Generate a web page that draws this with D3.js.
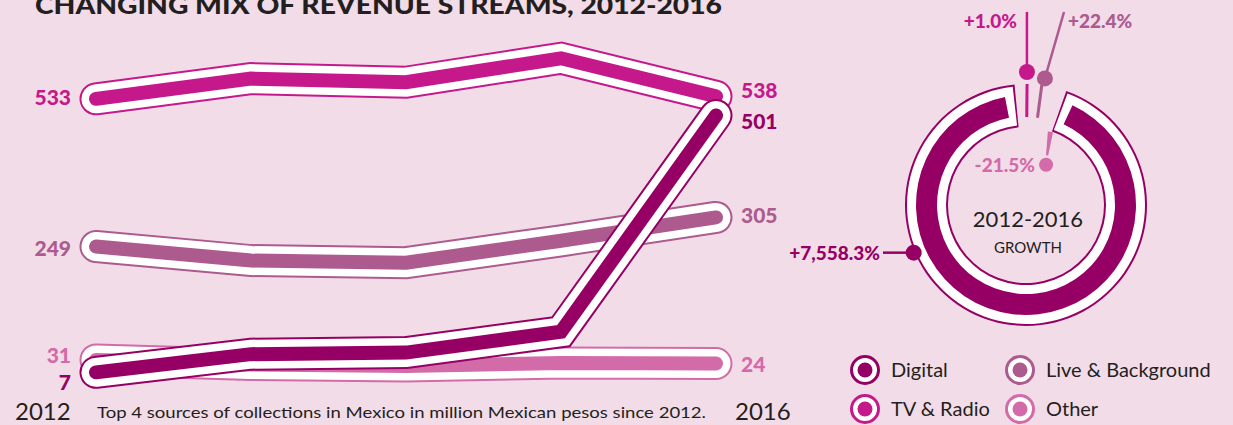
<!DOCTYPE html>
<html>
<head>
<meta charset="utf-8">
<script src="https://cdn.jsdelivr.net/npm/d3@7"></script>
<style>
body { margin: 0; background: #f2dce8; }
svg { display: block; font-family: Lato, "Open Sans", sans-serif; }
</style>
</head>
<body>
<svg id="chart" width="1233" height="425"></svg>
<script>
// data
var years = [2012, 2013, 2014, 2015, 2016];
var otherValues = [31, 22, 19, 25, 24];
var liveValues = [249, 222, 218, 260, 305];
var tvValues = [533, 572, 565, 611, 538];
var digitalValues = [7, 42, 45, 85, 501];

var growthNames = ["Digital", "TV & Radio", "Live & Background", "Other"];
var growthValues = [7558.3, 1.0, 22.4, -21.5];
var growthLabels = ["+7,558.3%", "+1.0%", "+22.4%", "-21.5%"];

var legendNames = ["Digital", "TV & Radio", "Live & Background", "Other"];

var colors = {
  "Digital": "#960064",
  "TV & Radio": "#c5198b",
  "Live & Background": "#ad5a8e",
  "Other": "#d36ba9"
};
var ink = "#231f20";

var svg = d3.select("#chart");

// title, cut by the top edge like in the original
svg.append("text")
  .attr("x", 35).attr("y", 14)
  .attr("textLength", 687).attr("lengthAdjust", "spacingAndGlyphs")
  .style("font-size", "24px").style("font-weight", 900).attr("fill", ink)
  .text("CHANGING MIX OF REVENUE STREAMS, 2012-2016");

// line chart
var x = d3.scalePoint().domain(years).range([96, 716]);
var y = d3.scaleLinear().domain([0, 600]).range([376, 64]);

var line = d3.line()
  .x(function(d, i) { return x(years[i]); })
  .y(function(d) { return y(d); });

// drawn bottom to top
var series = [
  { name: "Other", values: otherValues, nudgeL: -4, nudgeR: 1 },
  { name: "Live & Background", values: liveValues, nudgeL: 2, nudgeR: -2 },
  { name: "TV & Radio", values: tvValues, nudgeL: -1, nudgeR: -6 },
  { name: "Digital", values: digitalValues, nudgeL: 10, nudgeR: 6 }
];

series.forEach(function(s) {
  var g = svg.append("g");
  var c = colors[s.name];
  [[33, c], [29, "#fff"], [14, c]].forEach(function(w) {
    g.append("path")
      .attr("d", line(s.values))
      .attr("fill", "none")
      .attr("stroke", w[1])
      .attr("stroke-width", w[0])
      .attr("stroke-linecap", "round")
      .attr("stroke-linejoin", "miter");
  });
  var first = s.values[0], last = s.values[s.values.length - 1];
  svg.append("text")
    .attr("x", 71).attr("y", y(first) + s.nudgeL + 7.5)
    .attr("text-anchor", "end")
    .style("font-size", "21px").style("font-weight", 900)
    .attr("fill", c).text(first);
  svg.append("text")
    .attr("x", 741).attr("y", y(last) + s.nudgeR + 7.5)
    .style("font-size", "21px").style("font-weight", 900)
    .attr("fill", c).text(last);
});

// year labels + caption
svg.append("text").attr("x", 15).attr("y", 420)
  .style("font-size", "24px").attr("fill", ink).text(years[0]);
svg.append("text").attr("x", 735).attr("y", 420)
  .style("font-size", "24px").attr("fill", ink).text(years[years.length - 1]);
svg.append("text").attr("x", 97).attr("y", 418)
  .attr("textLength", 609).attr("lengthAdjust", "spacingAndGlyphs")
  .style("font-size", "16px").attr("fill", ink)
  .text("Top 4 sources of collections in Mexico in million Mexican pesos since 2012.");

// growth donut
var cx = 1026, cy = 205;
var rad = Math.PI / 180;
function polar(deg, r) {
  return [cx + r * Math.sin(deg * rad), cy - r * Math.cos(deg * rad)];
}
var arcStart = 25 * rad;
var arcScale = d3.scaleLinear().domain([0, growthValues[0]]).range([0, 324 * rad]);
var a0 = arcStart, a1 = arcStart + arcScale(growthValues[0]);
var donut = svg.append("g").attr("transform", "translate(" + cx + "," + cy + ")");
[
  { ri: 78, ro: 121, pad: 0.097, fill: colors["Digital"] },
  { ri: 80, ro: 119, pad: 0.08, fill: "#fff" },
  { ri: 89, ro: 110, pad: 0, fill: colors["Digital"] }
].forEach(function(l) {
  donut.append("path")
    .attr("d", d3.arc().innerRadius(l.ri).outerRadius(l.ro)
      .startAngle(a0 - l.pad).endAngle(a1 + l.pad)())
    .attr("fill", l.fill);
});

svg.append("text").attr("x", 1028).attr("y", 227)
  .attr("text-anchor", "middle").style("font-size", "22px").style("font-weight", 400)
  .attr("fill", ink).text("2012-2016");
svg.append("text").attr("x", 1028).attr("y", 253)
  .attr("text-anchor", "middle").style("font-size", "15px").style("font-weight", 400)
  .attr("fill", ink).text("GROWTH");

// slivers for the small growth values (under one degree of arc)
var sliverAngle = { "TV & Radio": 0.5, "Live & Background": 7.5, "Other": 20 };
growthNames.forEach(function(n, i) {
  if (i === 0) return;
  var v = growthValues[i], c = colors[n], ang = sliverAngle[n];
  if (v >= 0) {
    var p0 = polar(ang, 88), p1 = polar(ang, 121);
    svg.append("line").attr("x1", p0[0]).attr("y1", p0[1]).attr("x2", p1[0]).attr("y2", p1[1])
      .attr("stroke", c).attr("stroke-width", 3);
  } else {
    var q0 = polar(ang - 1.5, 77), q1 = polar(ang + 3, 54);
    var dx = q1[0] - q0[0], dy = q1[1] - q0[1], len = Math.hypot(dx, dy);
    var nx = -dy / len, ny = dx / len;
    svg.append("path")
      .attr("d", "M" + (q0[0] + nx * 2.6) + "," + (q0[1] + ny * 2.6) +
        "L" + (q0[0] - nx * 2.6) + "," + (q0[1] - ny * 2.6) +
        "L" + (q1[0] - nx * 1.1) + "," + (q1[1] - ny * 1.1) +
        "L" + (q1[0] + nx * 1.1) + "," + (q1[1] + ny * 1.1) + "Z")
      .attr("fill", c);
  }
});

// annotations
var fs = 19;
// Digital
var pd = polar(247, 122);
svg.append("line").attr("x1", pd[0]).attr("y1", pd[1]).attr("x2", 883).attr("y2", pd[1])
  .attr("stroke", colors["Digital"]).attr("stroke-width", 2.5);
svg.append("circle").attr("cx", pd[0]).attr("cy", pd[1]).attr("r", 8).attr("fill", colors["Digital"]);
svg.append("text").attr("x", 880).attr("y", pd[1] + fs * 0.36)
  .attr("text-anchor", "end").style("font-size", fs + "px").style("font-weight", 900)
  .attr("fill", colors["Digital"]).text(growthLabels[0]);
// TV & Radio
var pt = polar(0.4, 133);
svg.append("line").attr("x1", pt[0]).attr("y1", pt[1]).attr("x2", pt[0]).attr("y2", 12)
  .attr("stroke", colors["TV & Radio"]).attr("stroke-width", 2.5);
svg.append("circle").attr("cx", pt[0]).attr("cy", pt[1]).attr("r", 8).attr("fill", colors["TV & Radio"]);
svg.append("text").attr("x", 1017).attr("y", 21 + fs * 0.36)
  .attr("text-anchor", "end").style("font-size", fs + "px").style("font-weight", 900)
  .attr("fill", colors["TV & Radio"]).text(growthLabels[1]);
// Live & Background
var pl = polar(8.5, 128);
svg.append("line").attr("x1", pl[0]).attr("y1", pl[1]).attr("x2", 1064).attr("y2", 12)
  .attr("stroke", colors["Live & Background"]).attr("stroke-width", 2.5);
svg.append("circle").attr("cx", pl[0]).attr("cy", pl[1]).attr("r", 8).attr("fill", colors["Live & Background"]);
svg.append("text").attr("x", 1068).attr("y", 21 + fs * 0.36)
  .style("font-size", fs + "px").style("font-weight", 900)
  .attr("fill", colors["Live & Background"]).text(growthLabels[2]);
// Other
var po = polar(26.5, 45);
svg.append("circle").attr("cx", po[0]).attr("cy", po[1]).attr("r", 7).attr("fill", colors["Other"]);
svg.append("text").attr("x", 1035).attr("y", po[1] + fs * 0.36)
  .attr("text-anchor", "end").style("font-size", fs + "px").style("font-weight", 900)
  .attr("fill", colors["Other"]).text(growthLabels[3]);

// legend
var legX = [865, 1020], legY = [370, 409];
legendNames.forEach(function(n, i) {
  var lx = legX[Math.floor(i / 2)], ly = legY[i % 2];
  svg.append("circle").attr("cx", lx).attr("cy", ly).attr("r", 13.5)
    .attr("fill", "#fff").attr("stroke", colors[n]).attr("stroke-width", 3);
  svg.append("circle").attr("cx", lx).attr("cy", ly).attr("r", 7.5).attr("fill", colors[n]);
  svg.append("text").attr("x", lx + 26).attr("y", ly + 7)
    .style("font-size", "20px").attr("fill", ink).text(n);
});
</script>
</body>
</html>
